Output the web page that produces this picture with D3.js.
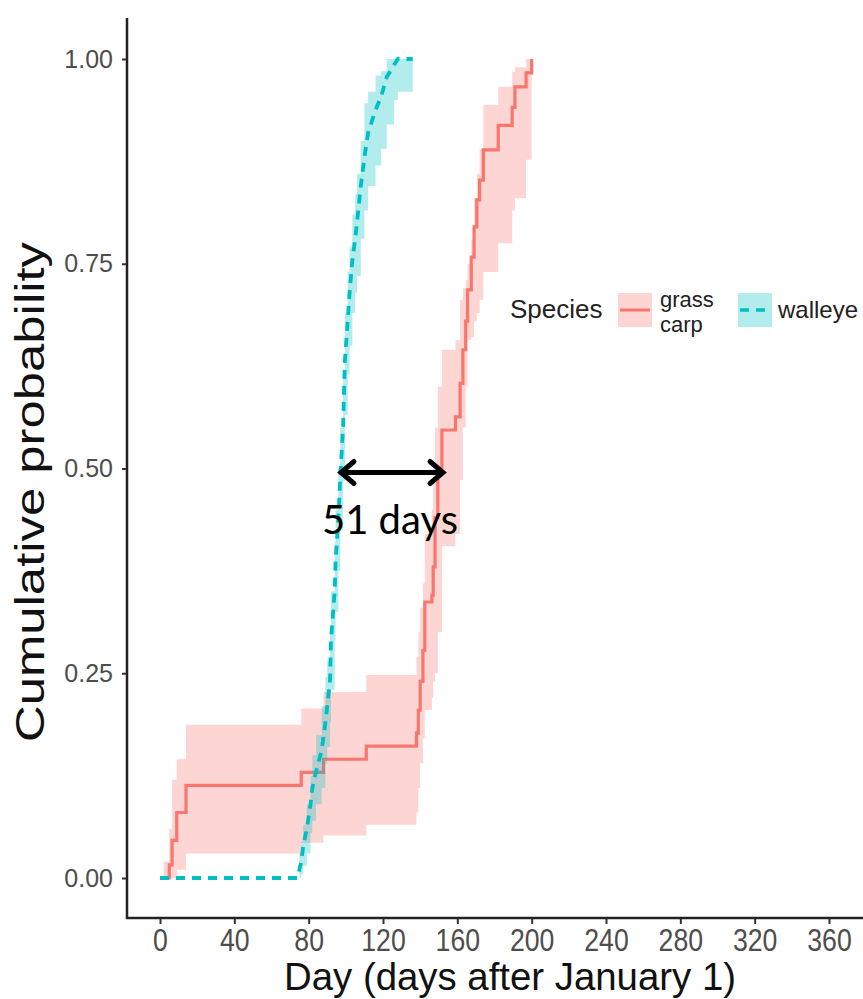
<!DOCTYPE html>
<html>
<head>
<meta charset="utf-8">
<script src="https://cdn.jsdelivr.net/npm/d3@7"></script>
<style>
  html, body { margin: 0; padding: 0; background: #fff; }
  svg { display: block; }
</style>
</head>
<body>
<div id="chart"></div>
<script>
// Tick values
const xTicks = [0, 40, 80, 120, 160, 200, 240, 280, 320, 360];
const yTicks = [0, 0.25, 0.5, 0.75, 1];

// Grass carp: step estimate with confidence band
const carpDay = [2, 5, 6.5, 9, 14, 76, 88, 111, 138, 139, 140, 141.5, 142.5, 146.3, 147, 148, 149.5,
  151.7, 159, 161.5, 163, 164.5, 165.5, 167.5, 169, 170.5, 172, 174, 182, 189.5, 191, 197, 200];
const carpP = [0, 0.016, 0.046, 0.08, 0.113, 0.129, 0.145, 0.161, 0.177, 0.205, 0.24, 0.278, 0.337, 0.345, 0.38, 0.44, 0.494,
  0.547, 0.563, 0.604, 0.645, 0.68, 0.718, 0.758, 0.795, 0.828, 0.852, 0.889, 0.919, 0.941, 0.966, 0.983, 1.0];
const carpLo = [0, 0, 0, 0.01, 0.03, 0.043, 0.052, 0.065, 0.08, 0.11, 0.14, 0.17, 0.205, 0.22, 0.24, 0.25, 0.30,
  0.405, 0.42, 0.486, 0.55, 0.60, 0.657, 0.66, 0.68, 0.69, 0.706, 0.74, 0.775, 0.815, 0.83, 0.877, 0.889];
const carpHi = [0.02, 0.06, 0.12, 0.145, 0.187, 0.207, 0.227, 0.248, 0.27, 0.30, 0.33, 0.36, 0.42, 0.45, 0.50, 0.55, 0.60,
  0.645, 0.657, 0.706, 0.72, 0.73, 0.75, 0.78, 0.83, 0.86, 0.89, 0.944, 0.966, 0.984, 0.99, 1.0, 1.0];

// Walleye
const walleyeDay = [0, 74, 75, 76, 77, 79, 81, 82, 84, 87, 89, 90, 91.5, 92, 94, 94.5, 96, 97, 98.5, 99.5, 101,
  102, 103.5, 105, 106, 108, 110, 112, 116, 119, 122, 126, 128, 136];
const walleyeP = [0, 0, 0.01, 0.02, 0.038, 0.06, 0.09, 0.11, 0.13, 0.156, 0.19, 0.21, 0.242, 0.29, 0.35, 0.388, 0.44, 0.49, 0.55, 0.632, 0.68,
  0.714, 0.754, 0.78, 0.8, 0.844, 0.88, 0.91, 0.938, 0.954, 0.978, 0.993, 1.0, 1.0];
const walleyeLo = [0, 0, 0, 0.005, 0.015, 0.03, 0.055, 0.07, 0.09, 0.11, 0.14, 0.16, 0.19, 0.23, 0.29, 0.325, 0.375, 0.425, 0.485, 0.565, 0.615,
  0.65, 0.69, 0.715, 0.735, 0.78, 0.815, 0.845, 0.87, 0.89, 0.92, 0.95, 0.96, 0.96];
const walleyeHi = [0, 0, 0.03, 0.045, 0.065, 0.09, 0.125, 0.15, 0.175, 0.21, 0.245, 0.265, 0.3, 0.35, 0.41, 0.45, 0.5, 0.55, 0.61, 0.69, 0.74,
  0.77, 0.81, 0.835, 0.86, 0.9, 0.946, 0.96, 0.98, 0.985, 1, 1, 1, 1];

const species = ['grass carp', 'walleye'];
const speciesColors = { 'grass carp': '#F8766D', 'walleye': '#00BFC4' };

const width = 863, height = 999;
const left = 127, bottom = 918;

const svg = d3.select('#chart').append('svg')
  .attr('width', width)
  .attr('height', height);

const x = d3.scaleLinear().domain([0, 360]).range([160, 829]);
const y = d3.scaleLinear().domain([0, 1]).range([878, 59]);

const rows = (days, p, lo, hi) => days.map((d, i) => ({ day: d, p: p[i], lo: lo[i], hi: hi[i] }));
const carp = rows(carpDay, carpP, carpLo, carpHi);
const walleye = rows(walleyeDay, walleyeP, walleyeLo, walleyeHi);

const band = d3.area()
  .x(d => x(d.day))
  .y0(d => y(d.lo))
  .y1(d => y(d.hi))
  .curve(d3.curveStepAfter);
const step = d3.line()
  .x(d => x(d.day))
  .y(d => y(d.p))
  .curve(d3.curveStepAfter);
// walleye steps are tiny, the dashed line reads as a smooth curve
const smooth = d3.line()
  .x(d => x(d.day))
  .y(d => y(d.p));

// bands and lines
svg.append('path').datum(carp)
  .attr('d', band)
  .attr('fill', speciesColors['grass carp'])
  .attr('fill-opacity', 0.3);
svg.append('path').datum(carp)
  .attr('d', step)
  .attr('fill', 'none')
  .attr('stroke', speciesColors['grass carp'])
  .attr('stroke-width', 3.2);
svg.append('path').datum(walleye)
  .attr('d', band)
  .attr('fill', speciesColors['walleye'])
  .attr('fill-opacity', 0.3);
svg.append('path').datum(walleye)
  .attr('d', smooth)
  .attr('fill', 'none')
  .attr('stroke', speciesColors['walleye'])
  .attr('stroke-width', 3.8)
  .attr('stroke-dasharray', '9,7');

// Axes
const yAxis = svg.append('g')
  .attr('transform', `translate(${left},0)`)
  .call(d3.axisLeft(y).tickValues(yTicks).tickFormat(d3.format('.2f')).tickSize(5).tickPadding(9));
const xAxis = svg.append('g')
  .attr('transform', `translate(0,${bottom})`)
  .call(d3.axisBottom(x).tickValues(xTicks).tickSize(6).tickPadding(5));
[yAxis, xAxis].forEach(a => {
  a.select('.domain').remove();
  a.selectAll('.tick line').attr('stroke', '#333').attr('stroke-width', 2);
});
yAxis.selectAll('.tick text')
  .attr('font-family', 'Liberation Sans, Arial, sans-serif')
  .attr('font-size', 25)
  .attr('fill', '#4d4d4d');
// x labels in the figure are tall and condensed
xAxis.selectAll('.tick text')
  .attr('font-family', 'Liberation Sans, Arial, sans-serif')
  .attr('font-size', 31)
  .attr('transform', 'scale(0.86,1)')
  .attr('fill', '#4d4d4d');

svg.append('line')
  .attr('x1', left).attr('x2', left)
  .attr('y1', 18).attr('y2', bottom + 1)
  .attr('stroke', '#222').attr('stroke-width', 2.5);
svg.append('line')
  .attr('x1', left - 1).attr('x2', width)
  .attr('y1', bottom).attr('y2', bottom)
  .attr('stroke', '#222').attr('stroke-width', 2.5);

// Axis titles
svg.append('text')
  .attr('x', 510)
  .attr('y', 990)
  .attr('text-anchor', 'middle')
  .attr('font-family', 'Liberation Sans, Arial, sans-serif')
  .attr('font-size', 38)
  .attr('textLength', 452)
  .attr('lengthAdjust', 'spacingAndGlyphs')
  .attr('fill', '#111')
  .text('Day (days after January 1)');
svg.append('text')
  .attr('transform', 'translate(44,492) rotate(-90)')
  .attr('text-anchor', 'middle')
  .attr('font-family', 'Liberation Sans, Arial, sans-serif')
  .attr('font-size', 40)
  .attr('textLength', 500)
  .attr('lengthAdjust', 'spacingAndGlyphs')
  .attr('fill', '#111')
  .text('Cumulative probability');

// Legend
const legend = svg.append('g');
legend.append('text')
  .attr('x', 510).attr('y', 318)
  .attr('font-family', 'Liberation Sans, Arial, sans-serif')
  .attr('font-size', 26)
  .attr('fill', '#222')
  .text('Species');

const keys = [
  { name: 'grass carp', x: 618, lines: ['grass', 'carp'], dash: null, width: 3 },
  { name: 'walleye', x: 738, lines: ['walleye'], dash: '9,7', width: 3.5 }
];
keys.forEach(k => {
  legend.append('rect')
    .attr('x', k.x).attr('y', 293)
    .attr('width', 34).attr('height', 34)
    .attr('fill', speciesColors[k.name])
    .attr('fill-opacity', 0.3);
  legend.append('line')
    .attr('x1', k.x + 2).attr('x2', k.x + 32)
    .attr('y1', 310).attr('y2', 310)
    .attr('stroke', speciesColors[k.name])
    .attr('stroke-width', k.width)
    .attr('stroke-dasharray', k.dash);
  if (k.lines.length === 2) {
    k.lines.forEach((s, i) => legend.append('text')
      .attr('x', k.x + 42).attr('y', 307 + i * 25)
      .attr('font-family', 'Liberation Sans, Arial, sans-serif')
      .attr('font-size', 22)
      .attr('fill', '#222')
      .text(s));
  } else {
    legend.append('text')
      .attr('x', k.x + 40).attr('y', 318)
      .attr('font-family', 'Liberation Sans, Arial, sans-serif')
      .attr('font-size', 24)
      .attr('fill', '#222')
      .text(k.lines[0]);
  }
});

// Annotation: gap between medians
const medianY = y(0.5) + 4;
const x1 = 341, x2 = 443;
const ann = svg.append('g')
  .attr('stroke', '#000')
  .attr('stroke-width', 5)
  .attr('stroke-linecap', 'round')
  .attr('fill', 'none');
ann.append('line').attr('x1', x1 + 2).attr('x2', x2 - 2).attr('y1', medianY).attr('y2', medianY);
ann.append('path').attr('d', `M${x1 + 13},${medianY - 11}L${x1},${medianY}L${x1 + 13},${medianY + 11}`);
ann.append('path').attr('d', `M${x2 - 13},${medianY - 11}L${x2},${medianY}L${x2 - 13},${medianY + 11}`);
svg.append('text')
  .attr('x', 390).attr('y', 534)
  .attr('text-anchor', 'middle')
  .attr('font-family', 'Lato, "Open Sans", sans-serif')
  .attr('font-size', 40)
  .attr('fill', '#000')
  .text('51 days');
</script>
</body>
</html>
